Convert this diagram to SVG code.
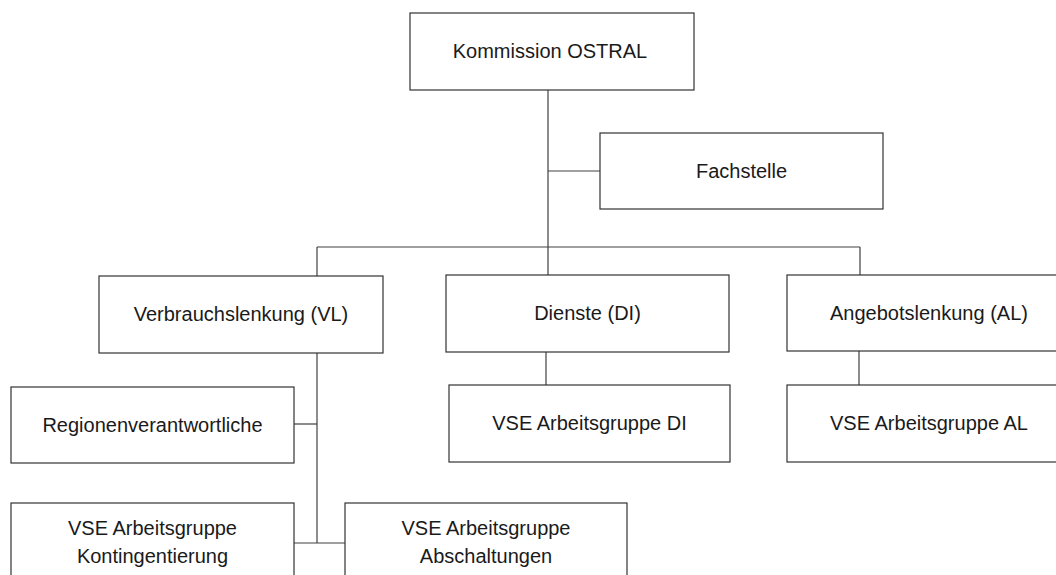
<svg xmlns="http://www.w3.org/2000/svg" width="1056" height="575" viewBox="0 0 1056 575">
  <style>
    .box { fill: #ffffff; stroke: #333333; stroke-width: 1.2; }
    .lbl { font-family: "Liberation Sans", Arial, sans-serif; font-size: 20px; fill: #1a1a1a; text-anchor: middle; }
    .conn { fill: none; stroke: #404040; stroke-width: 1.2; }
  </style>
  <rect width="1056" height="575" fill="#ffffff"/>
  <g id="connectors">
    <path class="conn" d="M548 90 V275"/>
    <path class="conn" d="M548 171 H600"/>
    <path class="conn" d="M317 247 H860"/>
    <path class="conn" d="M317 247 V276"/>
    <path class="conn" d="M860 247 V275"/>
    <path class="conn" d="M546 352 V385"/>
    <path class="conn" d="M859 351 V385"/>
    <path class="conn" d="M317 353 V543"/>
    <path class="conn" d="M294 424 H317"/>
    <path class="conn" d="M294 543 H345"/>
  </g>
  <g id="kommission">
    <rect class="box" x="410" y="13" width="284" height="77"/>
    <text class="lbl" x="550" y="58">Kommission OSTRAL</text>
  </g>
  <g id="fachstelle">
    <rect class="box" x="600" y="133" width="283" height="76"/>
    <text class="lbl" x="741.5" y="178">Fachstelle</text>
  </g>
  <g id="verbrauchslenkung">
    <rect class="box" x="99" y="276" width="284" height="77"/>
    <text class="lbl" x="241" y="321">Verbrauchslenkung (VL)</text>
  </g>
  <g id="dienste">
    <rect class="box" x="446" y="275" width="283" height="77"/>
    <text class="lbl" x="587.5" y="320">Dienste (DI)</text>
  </g>
  <g id="angebotslenkung">
    <rect class="box" x="787" y="275" width="284" height="76"/>
    <text class="lbl" x="929" y="320">Angebotslenkung (AL)</text>
  </g>
  <g id="vse-di">
    <rect class="box" x="449" y="385" width="281" height="77"/>
    <text class="lbl" x="589.5" y="430">VSE Arbeitsgruppe DI</text>
  </g>
  <g id="vse-al">
    <rect class="box" x="787" y="385" width="284" height="77"/>
    <text class="lbl" x="929" y="430">VSE Arbeitsgruppe AL</text>
  </g>
  <g id="regionen">
    <rect class="box" x="11" y="387" width="283" height="76"/>
    <text class="lbl" x="152.5" y="432">Regionenverantwortliche</text>
  </g>
  <g id="vse-kontingentierung">
    <rect class="box" x="11" y="503" width="283" height="77"/>
    <text class="lbl" x="152.5" y="535">VSE Arbeitsgruppe</text>
    <text class="lbl" x="152.5" y="563">Kontingentierung</text>
  </g>
  <g id="vse-abschaltungen">
    <rect class="box" x="345" y="503" width="282" height="77"/>
    <text class="lbl" x="486" y="535">VSE Arbeitsgruppe</text>
    <text class="lbl" x="486" y="563">Abschaltungen</text>
  </g>
</svg>
